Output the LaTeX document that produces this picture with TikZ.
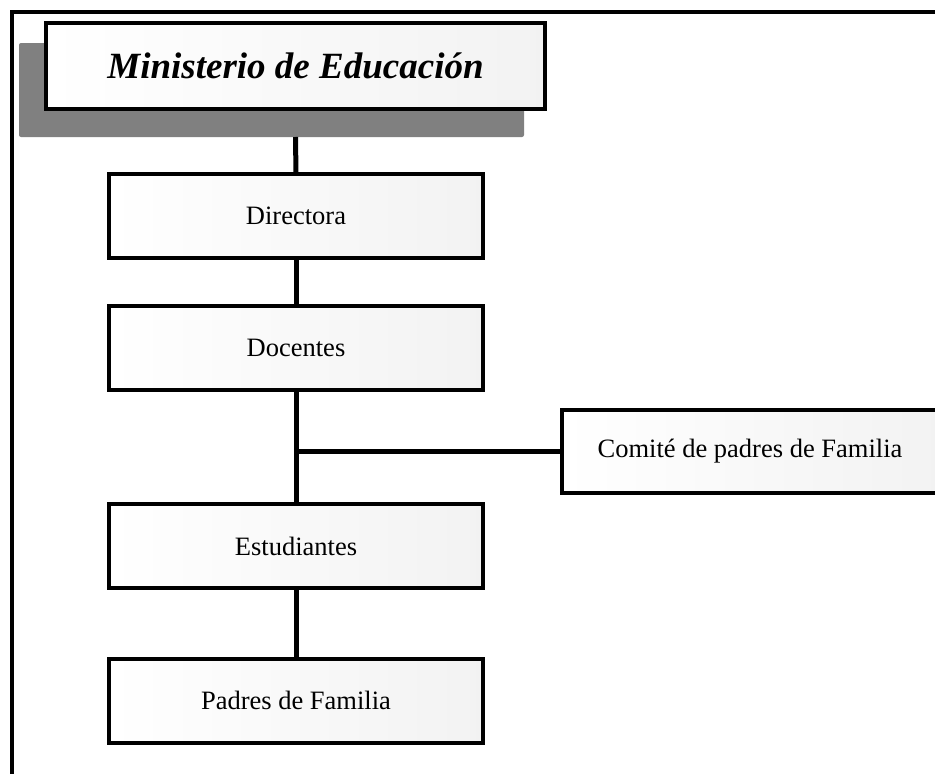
\documentclass[tikz,border=0pt]{standalone}
\usepackage{fontspec}
\setmainfont{Liberation Serif}
\begin{document}
\begin{tikzpicture}[x=1pt,y=-1pt,
  orgbox/.style={draw=black, line width=4pt, rectangle, left color=white, right color=black!5,
    minimum width=374pt, minimum height=84pt, inner sep=0pt, outer sep=0pt,
    font=\fontsize{26.5}{30}\selectfont},
  shadowbox/.style={fill=black!50, rounded corners=2pt, minimum width=505pt, minimum height=94pt, inner sep=0pt, outer sep=0pt},
  link/.style={line width=5pt},
  frameline/.style={line width=4pt}]
\useasboundingbox (0,0) rectangle (935,774);
% frame
\draw[frameline] (12,780) |- (940,12);
% top box with shadow
\node[shadowbox] (minsh) at (271.5,90) {};
\node[orgbox, minimum width=499pt, minimum height=86pt, font=\fontsize{37}{40}\selectfont\bfseries\itshape] (min) at (295.5,66) {Ministerio de Educación};
% boxes
\node[orgbox] (dir) at (296,216) {Directora};
\node[orgbox] (doc) at (296,347.5) {Docentes};
\node[orgbox] (est) at (296,546) {Estudiantes};
\node[orgbox] (pad) at (296,700.5) {Padres de Familia};
\node[orgbox, minimum width=376pt, minimum height=83pt] (com) at (750,451.5) {Comité de padres de Familia};
% connectors
\draw[link] (min.south |- minsh.south) -- (dir.north);
\draw[link] (dir.south) -- (doc.north);
\draw[link] (doc.south) -- (est.north);
\draw[link] (doc.south |- com.west) -- (com.west);
\draw[link] (est.south) -- (pad.north);
\end{tikzpicture}
\end{document}
